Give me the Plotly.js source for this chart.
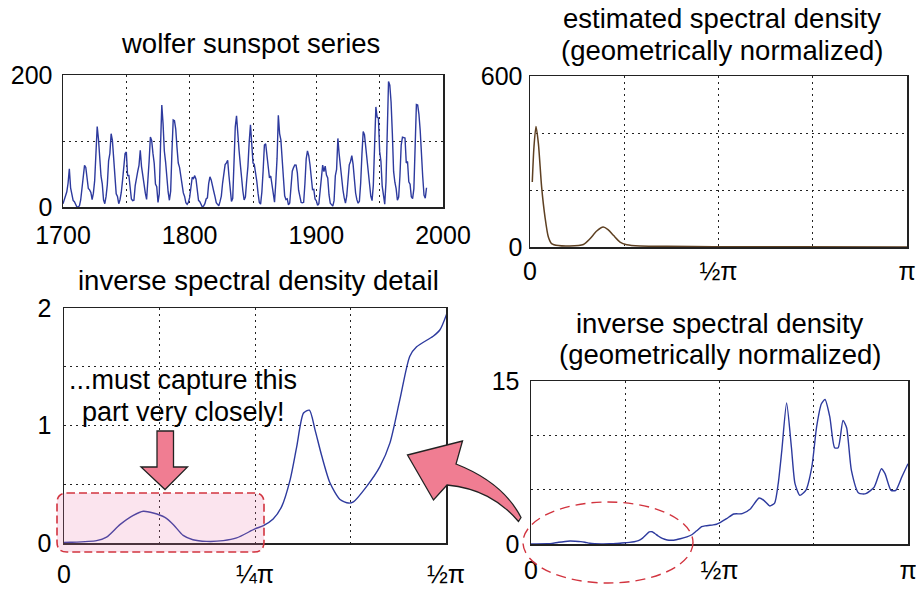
<!DOCTYPE html>
<html>
<head>
<meta charset="utf-8">
<script src="https://cdn.plot.ly/plotly-3.0.1.min.js"></script>
<style>
  html, body { margin: 0; padding: 0; background: #fff; }
  #chart { width: 916px; height: 589px; }
</style>
</head>
<body>
<div id="chart"></div>
<script>
// Annual Wolfer sunspot numbers, 1700-1987
const sunspotStart = 1700;
const sunspots = [
  5, 11, 16, 23, 36, 58, 29, 20, 10, 8,
  3, 0, 0, 2, 11, 27, 47, 63, 60, 39,
  28, 26, 22, 11, 21, 40, 78, 122, 103, 73,
  47, 35, 11, 5, 16, 34, 70, 81, 111, 101,
  73, 40, 20, 16, 5, 11, 22, 40, 60, 80.9,
  83.4, 47.7, 47.8, 30.7, 12.2, 9.6, 10.2, 32.4, 47.6, 54.0,
  62.9, 85.9, 61.2, 45.1, 36.4, 20.9, 11.4, 37.8, 69.8, 106.1,
  100.8, 81.6, 66.5, 34.8, 30.6, 7.0, 19.8, 92.5, 154.4, 125.9,
  84.8, 68.1, 38.5, 22.8, 10.2, 24.1, 82.9, 132.0, 130.9, 118.1,
  89.9, 66.6, 60.0, 46.9, 41.0, 21.3, 16.0, 6.4, 4.1, 6.8,
  14.5, 34.0, 45.0, 43.1, 47.5, 42.2, 28.1, 10.1, 8.1, 2.5,
  0.0, 1.4, 5.0, 12.2, 13.9, 35.4, 45.8, 41.1, 30.1, 23.9,
  15.6, 6.6, 4.0, 1.8, 8.5, 16.6, 36.3, 49.6, 64.2, 67.0,
  70.9, 47.8, 27.5, 8.5, 13.2, 56.9, 121.5, 138.3, 103.2, 85.7,
  64.6, 36.7, 24.2, 10.7, 15.0, 40.1, 61.5, 98.5, 124.7, 96.3,
  66.6, 64.5, 54.1, 39.0, 20.6, 6.7, 4.3, 22.7, 54.8, 93.8,
  95.8, 77.2, 59.1, 44.0, 47.0, 30.5, 16.3, 7.3, 37.6, 74.0,
  139.0, 111.2, 101.6, 66.2, 44.7, 17.0, 11.3, 12.4, 3.4, 6.0,
  32.3, 54.3, 59.7, 63.7, 63.5, 52.2, 25.4, 13.1, 6.8, 6.3,
  7.1, 35.6, 73.0, 85.1, 78.0, 64.0, 41.8, 26.2, 26.7, 12.1,
  9.5, 2.7, 5.0, 24.4, 42.0, 63.5, 53.8, 62.0, 48.5, 43.9,
  18.6, 5.7, 3.6, 1.4, 9.6, 47.4, 57.1, 103.9, 80.6, 63.6,
  37.6, 26.1, 14.2, 5.8, 16.7, 44.3, 63.9, 69.0, 77.8, 64.9,
  35.7, 21.2, 11.1, 5.7, 8.7, 36.1, 79.7, 114.4, 109.6, 88.8,
  67.8, 47.5, 30.6, 16.3, 9.6, 33.2, 92.6, 151.6, 136.3, 134.7,
  83.9, 69.4, 31.5, 13.9, 4.4, 38.0, 141.7, 190.2, 184.8, 159.0,
  112.3, 53.9, 37.5, 27.9, 10.2, 15.1, 47.0, 93.8, 105.9, 105.5,
  104.5, 66.6, 68.9, 38.0, 34.5, 15.5, 12.6, 27.5, 92.5, 155.4,
  154.7, 140.5, 115.9, 66.6, 45.9, 17.9, 13.4, 29.2
];
const years = sunspots.map((_, i) => sunspotStart + i);

// Estimated spectral density (geometrically normalized)
const specFreq = [0.019, 0.033, 0.05, 0.07, 0.097, 0.125, 0.153, 0.18, 0.236, 0.33,
  0.445, 0.50, 0.556, 0.61, 0.65, 0.695, 0.75, 0.806, 0.917, 1.14, 1.53, 2.2, 3.1416];
const specVal = [228, 351, 423, 363, 210, 105, 35, 12, 5, 3.5,
  9, 29, 56, 70, 61, 41, 17.5, 8, 3.5, 3, 1, 0.5, 0.3];

// Inverse spectral density (geometrically normalized)
const invFreq = [0.0, 0.025, 0.134, 0.175, 0.23, 0.285, 0.326, 0.367, 0.415, 0.45, 0.49,
  0.53, 0.586, 0.655, 0.71, 0.785, 0.82, 0.86, 0.895, 0.93, 0.957,
  0.985, 1.009, 1.032, 1.06, 1.094, 1.135, 1.17, 1.19, 1.244, 1.299,
  1.34, 1.381, 1.422, 1.45, 1.518, 1.546, 1.571, 1.63, 1.69, 1.76,
  1.83, 1.90, 1.94, 1.99, 2.03, 2.06, 2.09, 2.13, 2.17, 2.20,
  2.24, 2.29, 2.34, 2.38, 2.42, 2.45, 2.49, 2.53, 2.56, 2.60,
  2.63, 2.67, 2.73, 2.79, 2.86, 2.92, 2.95, 3.00, 3.04, 3.09, 3.1416];
const invVal = [0.005, 0.006, 0.02, 0.05, 0.156, 0.235, 0.27, 0.255, 0.218, 0.156, 0.065,
  0.028, 0.014, 0.02, 0.043, 0.12, 0.148, 0.204, 0.31, 0.54, 0.82,
  1.106, 1.13, 0.965, 0.74, 0.51, 0.37, 0.34, 0.35, 0.48, 0.65,
  0.85, 1.22, 1.59, 1.67, 1.76, 1.815, 1.935, 2.33, 2.76, 2.79,
  3.25, 4.23, 4.02, 3.5, 3.77, 5.55, 8.6, 12.97, 8.9, 5.55,
  4.48, 4.94, 7.08, 10.77, 12.9, 13.3, 11.7, 8.86, 8.86, 11.38,
  10.7, 6.78, 4.69, 4.63, 5.24, 6.93, 6.47, 4.94, 4.94, 6.16, 7.39];

// Tick labels
const PI = Math.PI;
const piTickVals = [0, PI / 4, PI / 2, 3 * PI / 4, PI];
const piTickText = ['0', '', '\u00BD\u03C0', '', '\u03C0'];
const detTickVals = [0, PI / 8, PI / 4, 3 * PI / 8, PI / 2];
const detTickText = ['0', '', '\u00BC\u03C0', '', '\u00BD\u03C0'];
const yearTickVals = [1700, 1750, 1800, 1850, 1900, 1950, 2000];
const yearTickText = ['1700', '', '1800', '', '1900', '', '2000'];

// ---- page geometry helpers (pixels -> paper fractions) ----
const W = 916, H = 589;
const px = x => x / W;
const py = y => 1 - y / H;
const domX = (a, b) => [px(a), px(b)];
const domY = (top, bottom) => [py(bottom), py(top)];
const pathOf = cmds => cmds.map(c => {
  const [op, ...pts] = c;
  if (op === 'Z') return 'Z';
  const out = [];
  for (let i = 0; i < pts.length; i += 2) out.push(px(pts[i]).toFixed(5) + ',' + py(pts[i + 1]).toFixed(5));
  return op + out.join(' ');
}).join(' ');

const FONT = 'Liberation Sans, Arial, Helvetica, sans-serif';
const BLUE = '#2d3a9e';
const BROWN = '#5e4022';
const INK = '#222';

function axisBase(extra) {
  return Object.assign({
    showline: true, mirror: true, linecolor: INK, linewidth: 1.5,
    showgrid: true, gridcolor: INK, gridwidth: 1, griddash: '2px,4px',
    zeroline: false, ticks: '', tickmode: 'array',
    ticklabeloverflow: 'allow',
    tickfont: { family: FONT, size: 25, color: '#000' },
    fixedrange: true
  }, extra);
}

const traces = [
  { x: years, y: sunspots, xaxis: 'x', yaxis: 'y', type: 'scatter', mode: 'lines',
    line: { color: BLUE, width: 1.4 }, hoverinfo: 'skip' },
  { x: specFreq, y: specVal, xaxis: 'x2', yaxis: 'y2', type: 'scatter', mode: 'lines',
    line: { color: BROWN, width: 1.5, shape: 'spline', smoothing: 0.7 }, hoverinfo: 'skip' },
  { x: invFreq, y: invVal, xaxis: 'x3', yaxis: 'y3', type: 'scatter', mode: 'lines',
    line: { color: BLUE, width: 1.4, shape: 'spline', smoothing: 0.7 }, hoverinfo: 'skip' },
  { x: invFreq, y: invVal, xaxis: 'x4', yaxis: 'y4', type: 'scatter', mode: 'lines',
    line: { color: BLUE, width: 1.4, shape: 'spline', smoothing: 0.6 }, hoverinfo: 'skip' }
];

const PINK = '#f07d92';
const RED = '#d2343f';

const shapes = [
  // highlighted low-frequency region in the detail panel
  { type: 'path', xref: 'paper', yref: 'paper', layer: 'above',
    path: pathOf([
      ['M', 67, 493], ['L', 254, 493], ['Q', 264, 493, 264, 503], ['L', 264, 542],
      ['Q', 264, 552, 254, 552], ['L', 67, 552], ['Q', 57, 552, 57, 542], ['L', 57, 503],
      ['Q', 57, 493, 67, 493], ['Z']
    ]),
    fillcolor: 'rgba(235,120,170,0.2)',
    line: { color: RED, width: 1.6, dash: '8px,4px' } },
  // downward arrow
  { type: 'path', xref: 'paper', yref: 'paper', layer: 'above',
    path: pathOf([
      ['M', 157, 431], ['L', 173.5, 431], ['L', 173.5, 467], ['L', 187.5, 467],
      ['L', 165, 489.5], ['L', 141, 467], ['L', 157, 467], ['Z']
    ]),
    fillcolor: PINK, line: { color: INK, width: 1.3 } },
  // curved arrow from the full view to the detail view
  { type: 'path', xref: 'paper', yref: 'paper', layer: 'above',
    path: pathOf([
      ['M', 407.5, 455], ['L', 462.5, 441], ['L', 456, 464],
      ['C', 484, 475, 508, 492, 521, 517.5], ['L', 518.5, 521.5],
      ['C', 500, 500, 478, 488, 447, 485], ['L', 433.5, 500], ['Z']
    ]),
    fillcolor: PINK, line: { color: INK, width: 1.3 } },
  // dashed ellipse around the low-frequency part of the full view
  { type: 'circle', xref: 'paper', yref: 'paper', layer: 'above',
    x0: px(523), x1: px(693), y0: py(583), y1: py(502),
    line: { color: RED, width: 1.4, dash: '10px,6px' } }
];

function txt(text, x, y, size) {
  return { text: text, xref: 'paper', yref: 'paper', x: px(x), y: py(y),
    xanchor: 'center', yanchor: 'middle', showarrow: false,
    font: { family: FONT, size: size || 27.5, color: '#000' } };
}

const annotations = [
  txt('wolfer sunspot series', 250, 43),
  txt('estimated spectral density', 722, 19),
  txt('(geometrically normalized)', 722, 50),
  txt('inverse spectral density detail', 258, 281),
  txt('inverse spectral density', 720, 323),
  txt('(geometrically normalized)', 720, 354),
  txt('...must capture this', 183, 380, 27),
  txt('part very closely!', 183, 412, 27)
];

const layout = {
  width: W, height: H,
  margin: { l: 0, r: 0, t: 0, b: 0, pad: 0 },
  paper_bgcolor: '#fff', plot_bgcolor: '#fff',
  showlegend: false,
  font: { family: FONT, color: '#000' },
  xaxis: axisBase({ domain: domX(63, 443), range: [1700, 2000], anchor: 'y',
    tickvals: yearTickVals, ticktext: yearTickText, ticklabelstandoff: 5 }),
  yaxis: axisBase({ domain: domY(75, 207), range: [0, 200], anchor: 'x',
    tickvals: [0, 100, 200], ticktext: ['0', '', '200'], ticklabelstandoff: 4 }),
  xaxis2: axisBase({ domain: domX(530, 907), range: [0, PI], anchor: 'y2',
    tickvals: piTickVals, ticktext: piTickText, ticklabelstandoff: 1 }),
  yaxis2: axisBase({ domain: domY(76, 247), range: [0, 600], anchor: 'x2',
    tickvals: [0, 200, 400, 600], ticktext: ['0', '', '', '600'], ticklabelstandoff: 1 }),
  xaxis3: axisBase({ domain: domX(64, 446), range: [0, PI / 2], anchor: 'y3',
    tickvals: detTickVals, ticktext: detTickText, ticklabelstandoff: 8 }),
  yaxis3: axisBase({ domain: domY(308, 543), range: [0, 2], anchor: 'x3',
    tickvals: [0, 0.5, 1, 1.5, 2], ticktext: ['0', '', '1', '', '2'], ticklabelstandoff: 6 }),
  xaxis4: axisBase({ domain: domX(531, 908), range: [0, PI], anchor: 'y4',
    tickvals: piTickVals, ticktext: piTickText, ticklabelstandoff: 3 }),
  yaxis4: axisBase({ domain: domY(381, 544), range: [0, 15], anchor: 'x4',
    tickvals: [0, 5, 10, 15], ticktext: ['0', '', '', '15'], ticklabelstandoff: 5 }),
  shapes: shapes,
  annotations: annotations
};

Plotly.newPlot('chart', traces, layout, { staticPlot: true, displayModeBar: false });
</script>
</body>
</html>
